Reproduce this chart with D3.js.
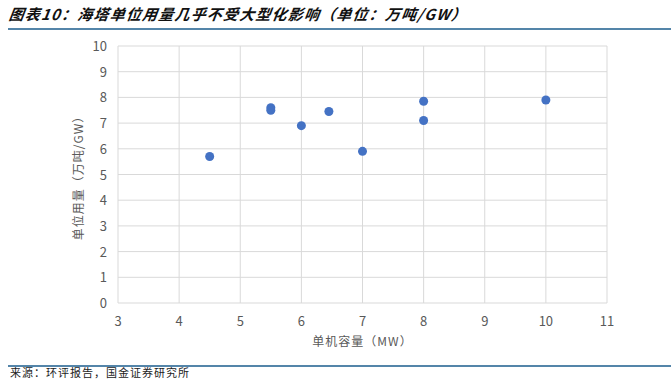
<!DOCTYPE html>
<html>
<head>
<meta charset="utf-8">
<script src="https://cdn.jsdelivr.net/npm/d3@7"></script>
<style>
  body { margin: 0; background: #fff; }
  svg { display: block; }
</style>
</head>
<body>
<svg id="chart" width="671" height="380"></svg>
<script>
"use strict";

// capacity (MW) vs tower usage (万吨/GW)
const capacity = [4.5, 5.5, 5.5, 6, 6.45, 7, 8, 8, 10];
const usage = [5.7, 7.6, 7.5, 6.9, 7.45, 5.9, 7.85, 7.1, 7.9];
const xTicks = [3, 4, 5, 6, 7, 8, 9, 10, 11];
const yTicks = [0, 1, 2, 3, 4, 5, 6, 7, 8, 9, 10];

const svg = d3.select("#chart");
const font = "'Noto Sans CJK SC', 'Liberation Sans', Arial, sans-serif";

const x = d3.scaleLinear().domain([3, 11]).range([118, 607]);
const y = d3.scaleLinear().domain([0, 10]).range([303, 46]);

// title + rule
svg.append("text")
    .attr("x", 8).attr("y", 20)
    .attr("font-family", font)
    .attr("font-size", 15)
    .attr("font-weight", "bold")
    .attr("font-style", "italic")
    .attr("letter-spacing", 1.2)
    .attr("fill", "#111")
    .attr("transform", "skewX(-8) translate(3,0)")
    .text("图表10：海塔单位用量几乎不受大型化影响（单位：万吨/GW）");
svg.append("line")
    .attr("x1", 8).attr("x2", 671).attr("y1", 29).attr("y2", 29)
    .attr("stroke", "#1b5d8c").attr("stroke-width", 1.5);

// grid
svg.append("g").selectAll("line")
  .data(yTicks)
  .enter().append("line")
    .attr("x1", x(3)).attr("x2", x(11))
    .attr("y1", d => y(d)).attr("y2", d => y(d))
    .attr("stroke", "#d9d9d9");
svg.append("g").selectAll("line")
  .data(xTicks)
  .enter().append("line")
    .attr("x1", d => x(d)).attr("x2", d => x(d))
    .attr("y1", y(0)).attr("y2", y(10))
    .attr("stroke", "#d9d9d9");

// tick labels
svg.append("g").selectAll("text")
  .data(yTicks)
  .enter().append("text")
    .attr("x", x(3) - 11).attr("y", d => y(d) + 5)
    .attr("text-anchor", "end")
    .attr("font-family", font).attr("font-size", 13)
    .attr("fill", "#595959")
    .text(d => d);
svg.append("g").selectAll("text")
  .data(xTicks)
  .enter().append("text")
    .attr("x", d => x(d)).attr("y", 326)
    .attr("text-anchor", "middle")
    .attr("font-family", font).attr("font-size", 13)
    .attr("fill", "#595959")
    .text(d => d);

// axis titles
svg.append("text")
    .attr("x", x(7)).attr("y", 346)
    .attr("text-anchor", "middle")
    .attr("font-family", font).attr("font-size", 12)
    .attr("letter-spacing", 1)
    .attr("fill", "#595959")
    .text("单机容量（MW）");
svg.append("text")
    .attr("transform", "translate(83,175) rotate(-90)")
    .attr("text-anchor", "middle")
    .attr("font-family", font).attr("font-size", 12)
    .attr("letter-spacing", 1)
    .attr("fill", "#595959")
    .text("单位用量（万吨/GW）");

// points
svg.append("g").selectAll("circle")
  .data(capacity)
  .enter().append("circle")
    .attr("cx", d => x(d))
    .attr("cy", (_, i) => y(usage[i]))
    .attr("r", 4.5)
    .attr("fill", "#4472c4");

// footer
svg.append("line")
    .attr("x1", 8).attr("x2", 671).attr("y1", 366).attr("y2", 366)
    .attr("stroke", "#1b5d8c").attr("stroke-width", 1.5);
svg.append("text")
    .attr("x", 10).attr("y", 377)
    .attr("font-family", font).attr("font-size", 11)
    .attr("letter-spacing", 1)
    .attr("fill", "#222")
    .text("来源：环评报告，国金证券研究所");
</script>
</body>
</html>
